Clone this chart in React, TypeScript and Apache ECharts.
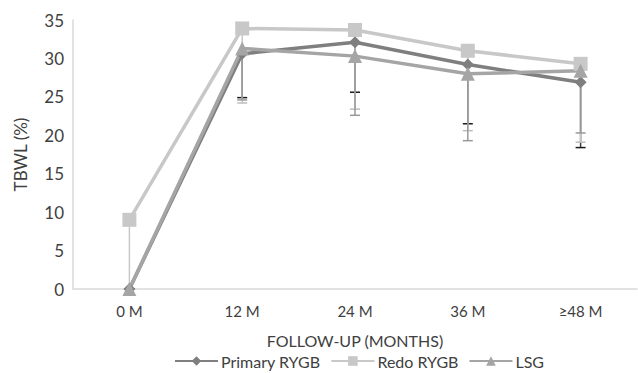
import React, { useEffect, useRef } from "react";
import * as echarts from "echarts";

const categories = ["0 M", "12 M", "24 M", "36 M", "≥48 M"];
const seriesNames = ["Primary RYGB", "Redo RYGB", "LSG"];
const primary = [0, 30.6, 32.1, 29.2, 26.9];
const redo = [9.0, 33.9, 33.7, 31.0, 29.3];
const lsg = [0, 31.3, 30.3, 28.0, 28.4];
const primaryLow = [0, 24.9, 25.6, 21.5, 18.4];
const redoLow = [0, 24.2, 23.4, 20.6, 19.1];
const lsgLow = [0, 24.6, 22.6, 19.3, 20.3];
const yTicks = [0, 5, 10, 15, 20, 25, 30, 35];

const FONT = "Lato, 'Open Sans', sans-serif";

function errorSeries(name: string, values: number[], lows: number[], color: string, capColor: string) {
  return {
    type: "custom",
    name: name + " err",
    z: 1,
    silent: true,
    data: values.map((v, i) => [i, lows[i], v]),
    renderItem: (params: any, api: any) => {
      const x = api.value(0);
      const lo = api.coord([x, api.value(1)]);
      const hi = api.coord([x, api.value(2)]);
      const cap = 5;
      return {
        type: "group",
        children: [
          {
            type: "line",
            shape: { x1: hi[0], y1: hi[1], x2: lo[0], y2: lo[1] },
            style: { stroke: color, lineWidth: 1.5 },
          },
          {
            type: "line",
            shape: { x1: lo[0] - cap, y1: lo[1], x2: lo[0] + cap, y2: lo[1] },
            style: { stroke: capColor, lineWidth: 1.5 },
          },
        ],
      };
    },
  };
}

export default function App() {
  const ref = useRef<HTMLDivElement>(null);
  useEffect(() => {
    const chart = echarts.init(ref.current!, null, { renderer: "svg" });
    const colors = ["#7f7f7f", "#c8c8c8", "#a5a5a5"];
    chart.setOption({
      animation: false,
      color: colors,
      grid: { left: 73, right: 1, top: 20, bottom: 84 },
      legend: {
        data: seriesNames,
        top: 351,
        left: 172,
        padding: 2,
        itemWidth: 43,
        itemHeight: 12,
        itemGap: 10,
        textStyle: { fontFamily: FONT, fontSize: 16, lineHeight: 16, color: "#404040", padding: [0, 0, 0, -2] },
      },
      xAxis: {
        type: "category",
        data: categories,
        boundaryGap: true,
        axisLine: { lineStyle: { color: "#d9d9d9", width: 1.5 } },
        axisTick: { show: false },
        axisLabel: { fontFamily: FONT, fontSize: 15, color: "#404040", margin: 14 },
        name: "FOLLOW-UP (MONTHS)",
        nameLocation: "middle",
        nameGap: 43,
        nameTextStyle: { fontFamily: FONT, fontSize: 16, lineHeight: 16, color: "#404040" },
      },
      yAxis: {
        type: "value",
        min: yTicks[0],
        max: yTicks[yTicks.length - 1],
        interval: 5,
        splitLine: { show: false },
        axisLine: { show: true, lineStyle: { color: "#d9d9d9", width: 1.5 } },
        axisTick: { show: false },
        axisLabel: { fontFamily: FONT, fontSize: 17, color: "#404040", margin: 9 },
        name: "TBWL (%)",
        nameLocation: "middle",
        nameGap: 44,
        nameRotate: 90,
        nameTextStyle: { fontFamily: FONT, fontSize: 17, color: "#404040" },
      },
      series: [
        errorSeries("Primary RYGB", primary, primaryLow, "#404040", "#1a1a1a"),
        errorSeries("Redo RYGB", redo, redoLow, "#c8c8c8", "#bdbdbd"),
        errorSeries("LSG", lsg, lsgLow, "#999999", "#999999"),
        {
          name: "Primary RYGB",
          type: "line",
          data: primary,
          z: 2,
          symbol: "diamond",
          symbolSize: [12, 12],
          lineStyle: { width: 3.5, color: colors[0] },
          itemStyle: { color: colors[0] },
        },
        {
          name: "Redo RYGB",
          type: "line",
          data: redo,
          z: 2,
          symbol: "rect",
          symbolSize: 14,
          lineStyle: { width: 3.5, color: colors[1] },
          itemStyle: { color: colors[1] },
        },
        {
          name: "LSG",
          type: "line",
          data: lsg,
          z: 2,
          symbol: "triangle",
          symbolSize: 14,
          lineStyle: { width: 3.5, color: colors[2] },
          itemStyle: { color: colors[2] },
        },
      ],
    });
    return () => chart.dispose();
  }, []);
  return <div ref={ref} style={{ width: 638, height: 373, position: "absolute", left: 0, top: 0 }} />;
}
